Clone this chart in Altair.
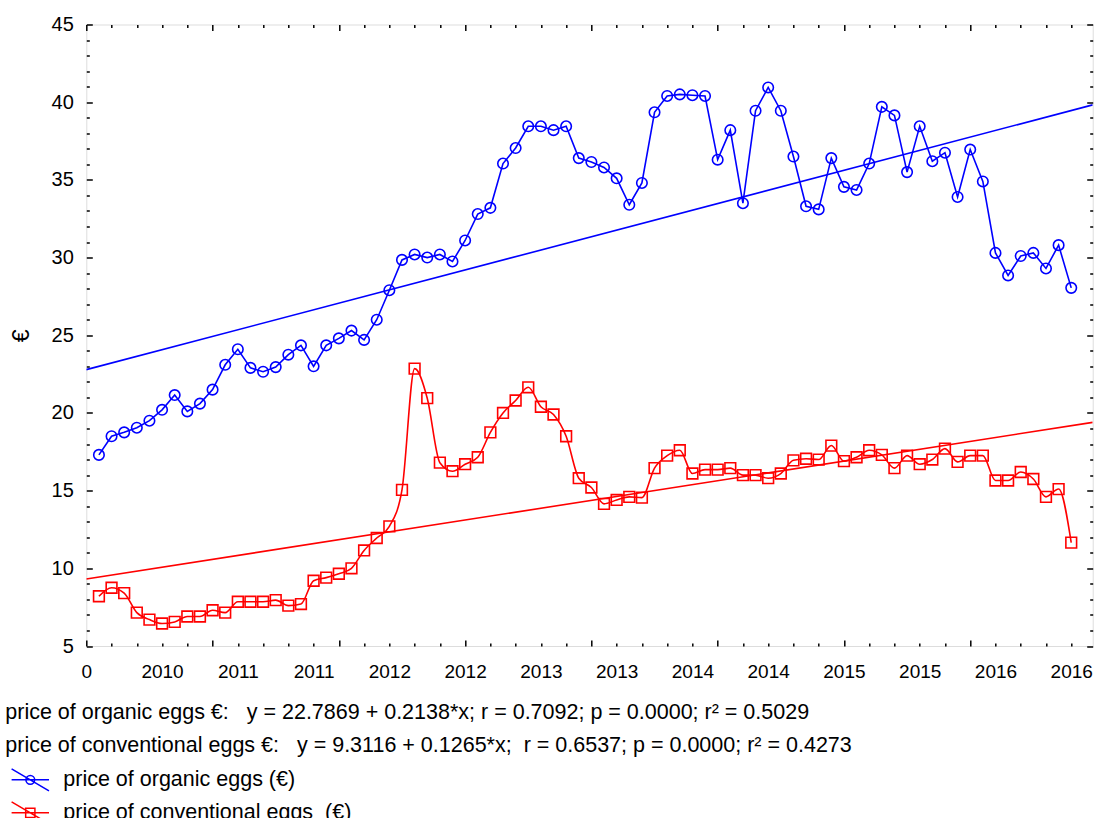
import json

import altair as alt
import pandas as pd

FONT = "Liberation Sans"
BLUE = "#0000ff"
RED = "#ff0000"

# Series names (legend) and the short names used in the fit statistics
series_names = ["price of organic eggs (€)", "price of conventional eggs\u00a0 (€)"]
stat_names = ["price of organic eggs €:", "price of conventional eggs €:"]

# Monthly prices, observations 1..78
months = list(range(1, 79))
organic = [
    17.3, 18.5, 18.75, 19.05, 19.5, 20.2, 21.15, 20.1, 20.6, 21.5,
    23.1, 24.1, 22.9, 22.65, 22.95, 23.75, 24.35, 23.0, 24.35, 24.8,
    25.3, 24.7, 26.0, 27.9, 29.85, 30.2, 30.0, 30.2, 29.75, 31.1,
    32.8, 33.2, 36.05, 37.05, 38.45, 38.45, 38.2, 38.45, 36.4, 36.15,
    35.8, 35.1, 33.4, 34.8, 39.35, 40.4, 40.5, 40.45, 40.4, 36.3,
    38.2, 33.5, 39.45, 40.95, 39.45, 36.5, 33.3, 33.1, 36.4, 34.55,
    34.35, 36.05, 39.7, 39.15, 35.5, 38.45, 36.2, 36.75, 33.9, 36.95,
    34.9, 30.3, 28.85, 30.1, 30.3, 29.3, 30.8, 28.05,
]
conventional = [
    8.2, 8.75, 8.4, 7.15, 6.7, 6.45, 6.55, 6.9, 6.9, 7.3,
    7.15, 7.85, 7.85, 7.85, 7.95, 7.6, 7.7, 9.2, 9.4, 9.65,
    10.0, 11.15, 11.95, 12.7, 15.05, 22.85, 20.95, 16.8, 16.25, 16.7,
    17.15, 18.75, 20.0, 20.8, 21.65, 20.4, 19.9, 18.5, 15.8, 15.2,
    14.15, 14.4, 14.6, 14.55, 16.45, 17.25, 17.6, 16.1, 16.35, 16.35,
    16.45, 16.0, 16.0, 15.8, 16.1, 16.95, 17.05, 17.0, 17.9, 16.9,
    17.15, 17.6, 17.3, 16.45, 17.25, 16.7, 17.0, 17.7, 16.85, 17.25,
    17.25, 15.65, 15.65, 16.2, 15.75, 14.6, 15.1, 11.65,
]

# Linear fits (organic, conventional)
fit_intercept = [22.7869, 9.3116]
fit_slope = [0.2138, 0.1265]
fit_r = [0.7092, 0.6537]
fit_p = [0.0000, 0.0000]
fit_r2 = [0.5029, 0.4273]

# Axes
x_domain = [0, 79.7]
y_domain = [5, 45]
x_tick_values = list(range(0, 81, 2))
x_label_values = list(range(0, 79, 6))
x_label_text = ["0", "2010", "2011", "2011", "2012", "2012", "2013",
                "2013", "2014", "2014", "2015", "2015", "2016", "2016"]
y_tick_values = list(range(5, 46))

# ---------------------------------------------------------------- data
prices = pd.DataFrame({
    "t": months * 2,
    "price": organic + conventional,
    "series": [series_names[0]] * len(months) + [series_names[1]] * len(months),
})

fit_rows = []
for name, a, b in zip(series_names, fit_intercept, fit_slope):
    for xv in x_domain:
        fit_rows.append({"t": xv, "price": a + b * xv, "series": name})
fits = pd.DataFrame(fit_rows)

nb = "\u00a0"
stat_lines = []
for i, name in enumerate(stat_names):
    gap = ";" + nb + " " if i == 1 else "; "
    stat_lines.append(
        f"{name}{nb}{nb} y = {fit_intercept[i]:.4f} + {fit_slope[i]:.4f}*x{gap}"
        f"r = {fit_r[i]:.4f}; p = {fit_p[i]:.4f}; r\u00b2 = {fit_r2[i]:.4f}"
    )

# ---------------------------------------------------------------- scales / axes
x_scale = alt.Scale(domain=x_domain, nice=False, zero=False)
y_scale = alt.Scale(domain=y_domain, nice=False, zero=False)
color_scale = alt.Scale(domain=series_names, range=[BLUE, RED])

# inward-pointing ticks: long on major values, short on minor ones
x_tick = {"expr": "datum.value % 10 === 0 ? -6 : -3"}
y_tick = {"expr": "datum.value % 5 === 0 ? -6 : -3"}

vals = json.dumps(x_label_values)
texts = json.dumps(x_label_text)
x_label_expr = f"indexof({vals}, datum.value) >= 0 ? {texts}[indexof({vals}, datum.value)] : ''"

common_axis = dict(domain=False, grid=False, tickColor="black", tickWidth=1.5,
                   labelFont=FONT, labelColor="black", labelFlush=False,
                   labelOverlap=False)

x_bottom = alt.Axis(orient="bottom", values=x_tick_values, tickSize=x_tick,
                    labelExpr=x_label_expr, labelFontSize=19, labelBaseline="top",
                    labelPadding={"expr": "datum.value % 10 === 0 ? 22 : 19"},
                    title=None, **common_axis)
y_left = alt.Axis(orient="left", values=y_tick_values, tickSize=y_tick,
                  labelExpr="datum.value % 5 === 0 ? datum.label : ''",
                  labelFontSize=20, labelPadding=19,
                  title="€", titleFont=FONT, titleFontSize=23, titleFontWeight="normal",
                  titleColor="black", titleAngle=270, titleX=-64.5, titleY=310.75,
                  titleAlign="center", titleBaseline="middle", **common_axis)
x_top = alt.Axis(orient="top", values=x_tick_values, tickSize=x_tick, labels=False,
                 title=None, **common_axis)
y_right = alt.Axis(orient="right", values=y_tick_values, tickSize=y_tick, labels=False,
                   title=None, **common_axis)

# legend symbols: series line, crossing fit line, marker
path_org = ("M-1.7,0L1.7,0M-1.7,-1L1.7,1M0.4,0A0.4,0.4,0,1,1,-0.4,0"
            "A0.4,0.4,0,1,1,0.4,0")
path_conv = "M-1.7,0L1.7,0M-1.7,-1L1.7,1M-0.42,-0.42L0.42,-0.42L0.42,0.42L-0.42,0.42Z"
symbol_expr = f"datum.value === '{series_names[0]}' ? '{path_org}' : '{path_conv}'"

legend = alt.Legend(
    orient="none", legendX=-81, legendY=677.8, direction="vertical", padding=0,
    title=stat_lines, titleFont=FONT, titleFontSize=21.5, titleFontWeight="normal",
    titleColor="black", titleLineHeight=33, titlePadding=11, titleLimit=2000,
    labelFont=FONT, labelFontSize=21.5, labelColor="black", labelLimit=2000,
    labelOffset=21, symbolType={"expr": symbol_expr}, symbolSize=484,
    symbolStrokeWidth=1.5, symbolOffset=13, symbolFillColor="transparent",
    rowPadding=5,
)

base = alt.Chart(prices)
enc = dict(
    x=alt.X("t:Q", scale=x_scale, axis=x_bottom),
    y=alt.Y("price:Q", scale=y_scale, axis=y_left),
)

org_line = base.transform_filter(alt.datum.series == series_names[0]).mark_line(
    strokeWidth=1.6, interpolate="linear"
).encode(color=alt.Color("series:N", scale=color_scale, legend=legend), **enc)

conv_line = base.transform_filter(alt.datum.series == series_names[1]).mark_line(
    strokeWidth=1.6, interpolate="monotone"
).encode(color=alt.Color("series:N", scale=color_scale, legend=None), **enc)

org_pts = base.transform_filter(alt.datum.series == series_names[0]).mark_point(
    shape="circle", filled=False, size=110, strokeWidth=1.6, opacity=1
).encode(color=alt.Color("series:N", scale=color_scale, legend=None), **enc)

conv_pts = base.transform_filter(alt.datum.series == series_names[1]).mark_point(
    shape="square", filled=False, size=115, strokeWidth=1.6, opacity=1
).encode(color=alt.Color("series:N", scale=color_scale, legend=None), **enc)

observed = alt.layer(org_line, conv_line, org_pts, conv_pts)

fit_lines = alt.Chart(fits).mark_line(strokeWidth=1.6, clip=True).encode(
    x=alt.X("t:Q", scale=x_scale, axis=x_top),
    y=alt.Y("price:Q", scale=y_scale, axis=y_right),
    color=alt.Color("series:N", scale=color_scale, legend=None),
    detail="series:N",
)

chart = alt.layer(observed, fit_lines).resolve_scale(
    x="independent", y="independent"
).properties(
    width=1006.4,
    height=621.5,
    padding={"left": 86.3, "top": 24.5, "right": 1.3, "bottom": 172},
    autosize=alt.AutoSizeParams(type="none"),
    background="white",
).configure_view(
    stroke="black", strokeWidth=2
).configure(font=FONT)

chart.save("out.html", embed_options={"renderer": "svg", "actions": False})
